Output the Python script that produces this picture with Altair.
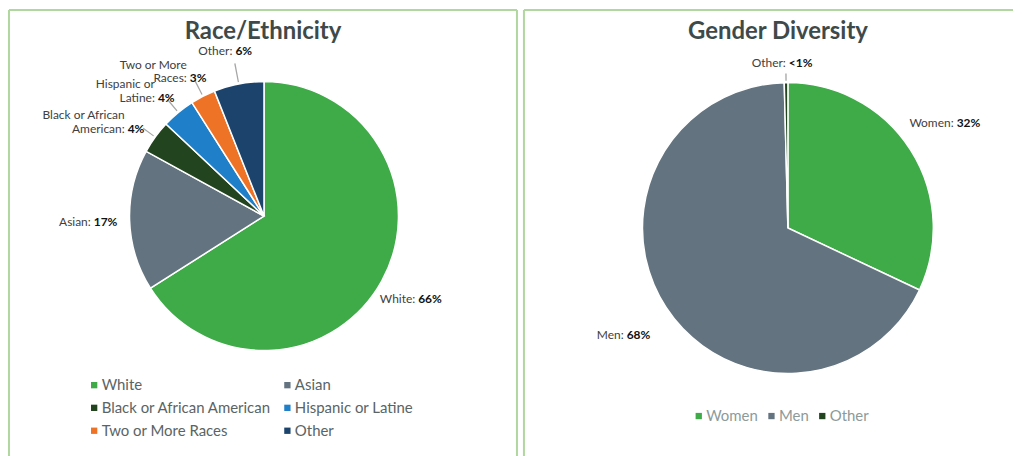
import math
import altair as alt
import pandas as pd

# ---------------- data ----------------
race_categories = ["White", "Asian", "Black or African American",
                   "Hispanic or Latine", "Two or More Races", "Other"]
race_values = [66, 17, 4, 4, 3, 6]
race_label_names = ["White:", "Asian:", "Black or African\nAmerican:",
                    "Hispanic or\nLatine:", "Two or More\nRaces:", "Other:"]
race_label_values = ["66%", "17%", "4%", "4%", "3%", "6%"]
race_colors = ["#3FAA48", "#63737F", "#22441F", "#1F7FC9", "#EE7326", "#1B436B"]

gender_categories = ["Women", "Men", "Other"]
gender_values = [32, 67.6, 0.4]
gender_label_names = ["Women:", "Men:", "Other:"]
gender_label_values = ["32%", "68%", "<1%"]
gender_colors = ["#3FAA48", "#63737F", "#22441F"]

FONT = "Lato"
BORDER = "#B0D89E"
H = 440


def make_df(cats, vals, names, pcts):
    return pd.DataFrame({
        "category": cats,
        "value": vals,
        "order": list(range(len(cats))),
        "name_label": names,
        "pct_label": ["\n" * n.count("\n") + p for n, p in zip(names, pcts)],
    })


def panel(df, cats, colors, title, W, cx, cy, r, r0, k, title_x, legend, right_border=True):
    theta_scale = alt.Scale(domain=[0, 100], range=[0, 2 * math.pi])
    base = (
        alt.Chart(df)
        .transform_window(cum="sum(value)", sort=[alt.SortField("order", order="ascending")],
                          frame=[None, 0])
        .transform_calculate(
            start="datum.cum - datum.value",
            mid="datum.cum - datum.value / 2",
            la="datum.cum - datum.value / 2 - 0.07",
            lb="datum.cum - datum.value / 2 + 0.07",
        )
        .transform_calculate(
            s="abs(sin(datum.mid / 100 * 2 * PI))",
        )
        .transform_calculate(
            lr=f"{r0} + {k} * datum.s",
            lo=f"{r0} + {k} * datum.s - 10 - 16 * datum.s",
            li=f"{r + 2}",
        )
    )
    pos = dict(x=alt.value(cx), y=alt.value(cy))
    arcs = base.mark_arc(outerRadius=r, stroke="white", strokeWidth=1.5).encode(
        theta=alt.Theta("start:Q", scale=theta_scale),
        theta2="cum:Q",
        color=alt.Color("category:N", scale=alt.Scale(domain=cats, range=colors),
                        legend=legend),
        order=alt.Order("order:Q"),
        **pos,
    )
    leaders = base.transform_filter("datum.value < 10").mark_arc(color="#A6A6A6").encode(
        theta=alt.Theta("la:Q", scale=theta_scale),
        theta2="lb:Q",
        radius=alt.Radius("lo:Q", scale=None),
        radius2="li:Q",
        **pos,
    )
    names = base.mark_text(align="right", baseline="middle", lineBreak="\n",
                           font=FONT, fontSize=12, color="#404040").encode(
        theta=alt.Theta("mid:Q", scale=theta_scale),
        radius=alt.Radius("lr:Q", scale=None),
        text="name_label:N",
        **pos,
    )
    pcts = base.mark_text(align="left", baseline="middle", lineBreak="\n", dx=3,
                          font=FONT, fontSize=12, fontWeight="bold", color="#111111").encode(
        theta=alt.Theta("mid:Q", scale=theta_scale),
        radius=alt.Radius("lr:Q", scale=None),
        text="pct_label:N",
        **pos,
    )
    one = pd.DataFrame({"t": [title]})
    ttl = alt.Chart(one).mark_text(
        font=FONT, fontSize=24, fontWeight="bold", color="#3E4A4A", baseline="middle"
    ).encode(text="t:N", x=alt.value(title_x), y=alt.value(22))
    frame = [
        alt.Chart(one).mark_rule(color=BORDER, strokeWidth=2).encode(
            x=alt.value(0), x2=alt.value(W), y=alt.value(0)),
        alt.Chart(one).mark_rule(color=BORDER, strokeWidth=2).encode(
            x=alt.value(0), y=alt.value(0), y2=alt.value(H + 20)),
    ]
    if right_border:
        frame.append(alt.Chart(one).mark_rule(color=BORDER, strokeWidth=2).encode(
            x=alt.value(W), y=alt.value(0), y2=alt.value(H + 20)))
    return alt.layer(arcs, leaders, names, pcts, ttl, *frame).properties(width=W, height=H)


race_df = make_df(race_categories, race_values, race_label_names, race_label_values)
gender_df = make_df(gender_categories, gender_values, gender_label_names, gender_label_values)

race_legend = alt.Legend(orient="none", legendX=78, legendY=369, columns=2, direction="horizontal",
                         title=None, symbolType="square", symbolSize=40, symbolStrokeWidth=0,
                         labelFont=FONT, labelFontSize=15, labelColor="#5A6464", labelLimit=400,
                         columnPadding=8, rowPadding=7, labelOffset=0, padding=0)
gender_legend = alt.Legend(orient="none", legendX=168, legendY=400, direction="horizontal",
                           title=None, symbolType="square", symbolSize=40, symbolStrokeWidth=0,
                           labelFont=FONT, labelFontSize=15, labelColor="#8C9A9A", labelLimit=400,
                           columnPadding=6, labelOffset=0, padding=0)

left = panel(race_df, race_categories, race_colors, "Race/Ethnicity",
             510, 256, 207, 135, 168, 6, 255, race_legend)
right = panel(gender_df, gender_categories, gender_colors, "Gender Diversity",
              491, 265, 219, 146, 165, 38, 255, gender_legend, right_border=False)

chart = (
    alt.hconcat(left, right, spacing=5)
    .resolve_scale(color="independent", theta="independent")
    .resolve_legend(color="independent")
    .properties(padding=0, background="white")
    .configure_view(strokeWidth=0)
)

chart.save("out.html", embed_options={"renderer": "svg", "actions": False})
